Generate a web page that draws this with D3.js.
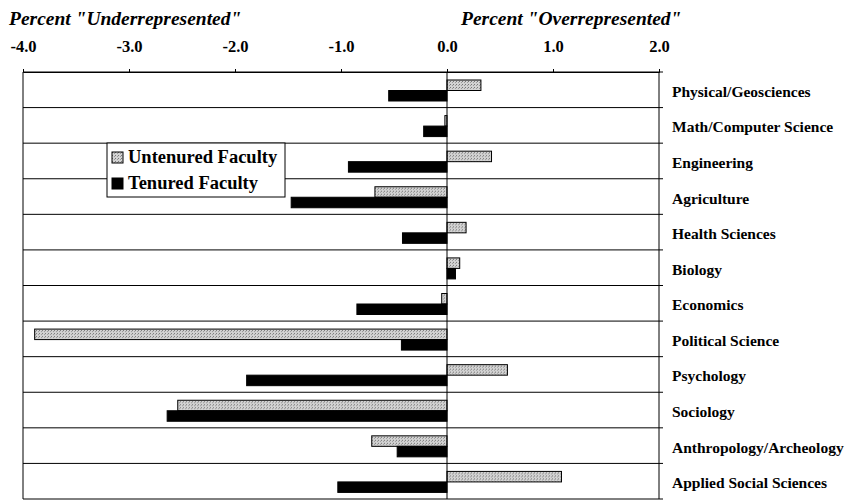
<!DOCTYPE html>
<html>
<head>
<meta charset="utf-8">
<script src="https://cdn.jsdelivr.net/npm/d3@7"></script>
<style>
  body { margin: 0; background: #fff; }
  svg { display: block; font-family: "Liberation Serif", "Times New Roman", serif; }
</style>
</head>
<body>
<div id="chart"></div>
<script>
// Fields, top to bottom
const categories = [
  "Physical/Geosciences",
  "Math/Computer Science",
  "Engineering",
  "Agriculture",
  "Health Sciences",
  "Biology",
  "Economics",
  "Political Science",
  "Psychology",
  "Sociology",
  "Anthropology/Archeology",
  "Applied Social Sciences",
];
const untenured = [0.32, -0.02, 0.42, -0.68, 0.18, 0.12, -0.05, -3.89, 0.57, -2.54, -0.71, 1.08];
const tenured = [-0.55, -0.22, -0.93, -1.47, -0.42, 0.08, -0.85, -0.43, -1.89, -2.64, -0.47, -1.03];
const seriesNames = ["Untenured Faculty", "Tenured Faculty"];
const tickValues = [-4, -3, -2, -1, 0, 1, 2];

const W = 850, H = 500;
const plot = { left: 23, right: 659, top: 72, bottom: 499 };

const svg = d3.select("#chart").append("svg").attr("width", W).attr("height", H);

// dotted grey fill for the untenured bars
const defs = svg.append("defs");
const pat = defs.append("pattern")
  .attr("id", "dots").attr("patternUnits", "userSpaceOnUse")
  .attr("width", 3).attr("height", 3);
pat.append("rect").attr("width", 3).attr("height", 3).attr("fill", "#d2d2d2");
pat.append("rect").attr("x", 0).attr("y", 0).attr("width", 1).attr("height", 1).attr("fill", "#777");
pat.append("rect").attr("x", 2).attr("y", 1).attr("width", 1).attr("height", 1).attr("fill", "#999");

const x = d3.scaleLinear().domain([-4, 2]).range([plot.left, plot.right]);
const y = d3.scaleBand().domain(categories).range([plot.top, plot.bottom]);
const ySub = d3.scaleBand().domain(seriesNames).range([8, 29]);

/* ---------- Titles ---------- */
svg.append("text")
  .attr("x", 9).attr("y", 25)
  .attr("font-size", "19.5px").attr("font-weight", "bold").attr("font-style", "italic")
  .text('Percent "Underrepresented"');
svg.append("text")
  .attr("x", 461).attr("y", 25)
  .attr("font-size", "19.5px").attr("font-weight", "bold").attr("font-style", "italic")
  .text('Percent "Overrepresented"');

/* ---------- Row grid ---------- */
svg.append("g")
  .selectAll("line")
  .data(categories)
  .join("line")
  .attr("x1", plot.left).attr("x2", plot.right + 4)
  .attr("y1", (d) => y(d)).attr("y2", (d) => y(d))
  .attr("stroke", "#000").attr("stroke-width", 1);

svg.append("line")
  .attr("x1", plot.left).attr("x2", plot.right + 4)
  .attr("y1", plot.bottom).attr("y2", plot.bottom)
  .attr("stroke", "#000");

// frame sides
svg.append("line")
  .attr("x1", plot.left).attr("x2", plot.left)
  .attr("y1", plot.top).attr("y2", plot.bottom).attr("stroke", "#000");
svg.append("line")
  .attr("x1", plot.right).attr("x2", plot.right)
  .attr("y1", plot.top).attr("y2", plot.bottom).attr("stroke", "#000");

/* ---------- Top axis ---------- */
const xAxis = svg.append("g")
  .attr("transform", `translate(0,${plot.top})`)
  .call(d3.axisTop(x).tickValues(tickValues).tickSize(3).tickFormat(d3.format(".1f")));
xAxis.select(".domain").attr("stroke", "#000");
xAxis.selectAll("text")
  .attr("y", -20)
  .attr("font-family", '"Liberation Serif", serif')
  .attr("font-size", "16.5px").attr("font-weight", "bold").attr("fill", "#000")
  .text((d) => d3.format(".1f")(d).replace("−", "-"));

/* ---------- Bars ---------- */
const rows = categories.map((c, i) => ({ cat: c, values: [untenured[i], tenured[i]] }));

const rowG = svg.append("g")
  .selectAll("g")
  .data(rows)
  .join("g")
  .attr("transform", (d) => `translate(0,${y(d.cat)})`);

rowG.selectAll("rect")
  .data((d) => d.values.map((v, j) => ({ name: seriesNames[j], v })))
  .join("rect")
  .attr("x", (d) => x(Math.min(0, d.v)))
  .attr("width", (d) => Math.abs(x(d.v) - x(0)))
  .attr("y", (d) => ySub(d.name))
  .attr("height", ySub.bandwidth())
  .attr("fill", (d) => (d.name === seriesNames[0] ? "url(#dots)" : "#000"))
  .attr("stroke", "#000")
  .attr("stroke-width", 1);

// zero line
svg.append("line")
  .attr("x1", x(0)).attr("x2", x(0))
  .attr("y1", plot.top).attr("y2", plot.bottom)
  .attr("stroke", "#000");

/* ---------- Category labels ---------- */
svg.append("g")
  .selectAll("text")
  .data(categories)
  .join("text")
  .attr("x", 672)
  .attr("y", (d) => y(d) + y.bandwidth() / 2 + 7)
  .attr("font-size", "15.5px").attr("font-weight", "bold")
  .text((d) => d);

/* ---------- Legend ---------- */
const legend = svg.append("g").attr("transform", "translate(107,143)");
legend.append("rect")
  .attr("width", 178).attr("height", 54)
  .attr("fill", "#fff").attr("stroke", "#000").attr("stroke-width", 1);

const items = legend.selectAll(".item")
  .data(seriesNames)
  .join("g")
  .attr("class", "item")
  .attr("transform", (d, i) => `translate(5,${9 + i * 26})`);
items.append("rect")
  .attr("width", 11).attr("height", 11)
  .attr("fill", (d, i) => (i === 0 ? "url(#dots)" : "#000"))
  .attr("stroke", "#000");
items.append("text")
  .attr("x", 16).attr("y", 11)
  .attr("font-size", "18.5px").attr("font-weight", "bold")
  .text((d) => d);
</script>
</body>
</html>
